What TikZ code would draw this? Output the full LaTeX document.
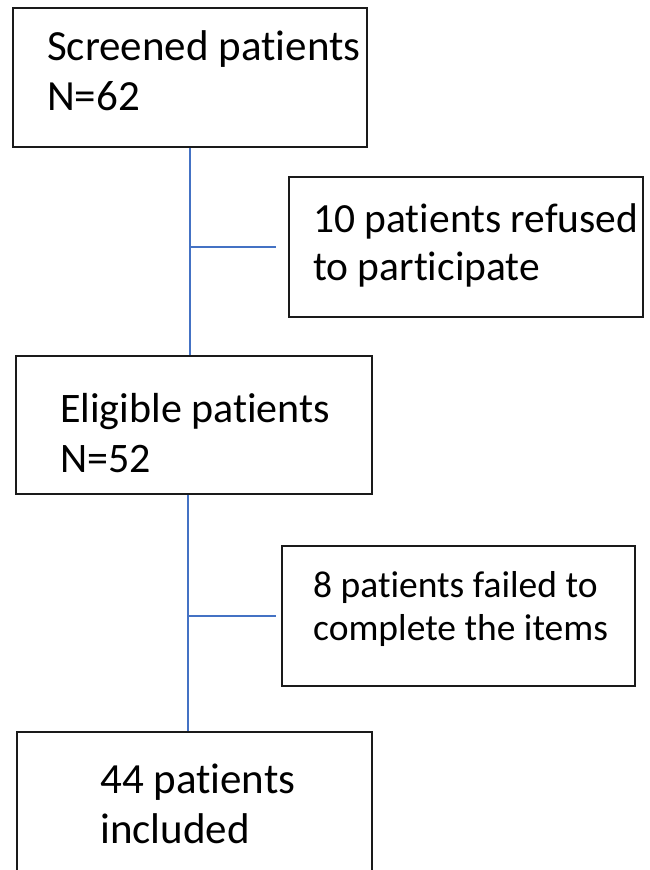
\documentclass[tikz,border=0pt]{standalone}
\usepackage{fontspec}
\setmainfont[Ligatures=NoCommon]{Carlito}
\definecolor{linkblue}{HTML}{4472C4}
\definecolor{boxline}{HTML}{1A1A1A}
\tikzset{
  box/.style={draw=boxline, line width=1.6pt, fill=white, rectangle, inner sep=0pt},
  big/.style={inner sep=0pt, anchor=base west, font=\fontsize{43}{50}\selectfont},
  small/.style={inner sep=0pt, anchor=base west, font=\fontsize{37.5}{43}\selectfont},
  link/.style={draw=linkblue, line width=1.5pt}
}
\begin{document}
\begin{tikzpicture}[x=1pt,y=-1pt]
\clip (0,0) rectangle (649,870);
\fill[white] (0,0) rectangle (649,870);
% boxes
\node[box, minimum width=354pt, minimum height=139pt] (b1) at (190,77.5) {};
\node[box, minimum width=354pt, minimum height=140pt] (b2) at (466,247) {};
\node[box, minimum width=356pt, minimum height=138pt] (b3) at (194,425) {};
\node[box, minimum width=353pt, minimum height=140pt] (b4) at (458.5,616) {};
\node[box, minimum width=355pt, minimum height=150pt] (b5) at (194.5,807) {};
% texts
\node[big] (t1a) at (47,60) {Screened patients};
\node[big] (t1b) at (47,110) {N=62};
\node[big, font=\fontsize{41.5}{48}\selectfont] (t2a) at (313,232) {10 patients refused};
\node[big, font=\fontsize{41.5}{48}\selectfont] (t2b) at (313,280) {to participate};
\node[big, font=\fontsize{42}{50}\selectfont] (t3a) at (60,422) {Eligible patients};
\node[big, font=\fontsize{42}{50}\selectfont] (t3b) at (60,472) {N=52};
\node[small] (t4a) at (313,597) {8 patients failed to};
\node[small] (t4b) at (313,640) {complete the items};
\node[big] (t5a) at (100,793) {44 patients};
\node[big] (t5b) at (100,843) {included};
% connectors
\coordinate (j1) at (b1.south |- b2.west);
\coordinate (e1) at ([xshift=-12pt]b2.west);
\draw[link] (b1.south) -- (b1.south |- b3.north);
\draw[link] (j1) -- (e1);
\coordinate (s3) at ([xshift=-6pt]b3.south);
\coordinate (j2) at (s3 |- b4.west);
\coordinate (e2) at ([xshift=-5pt]b4.west);
\draw[link] (s3) -- (s3 |- b5.north);
\draw[link] (j2) -- (e2);
\end{tikzpicture}
\end{document}
